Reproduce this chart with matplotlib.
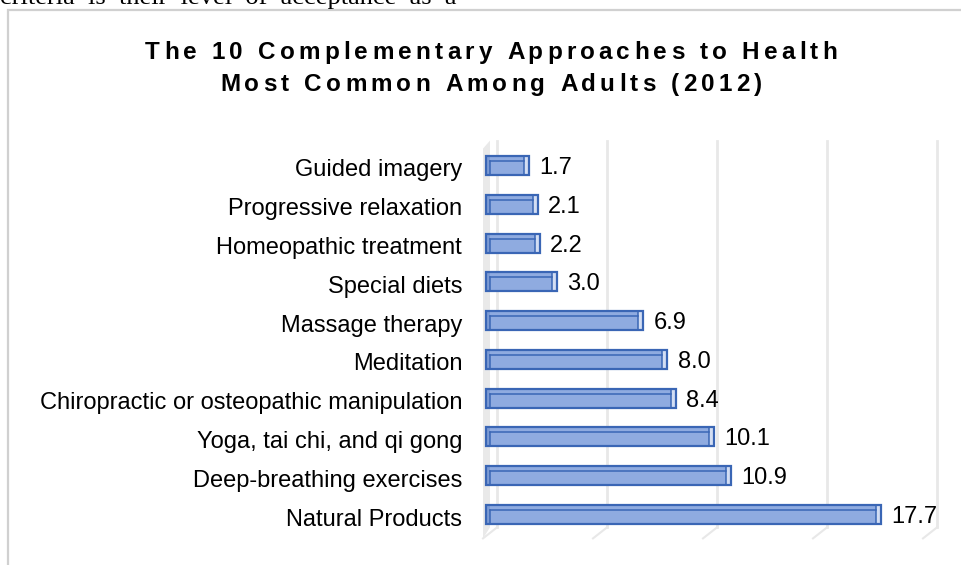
import matplotlib.pyplot as plt
from matplotlib.patches import Rectangle, Polygon
from matplotlib.font_manager import FontProperties

plt.rcParams['font.family'] = ['Liberation Sans', 'DejaVu Sans']

# data, top row first (as drawn)
categories = ['Guided imagery', 'Progressive relaxation', 'Homeopathic treatment',
              'Special diets', 'Massage therapy', 'Meditation',
              'Chiropractic or osteopathic manipulation', 'Yoga, tai chi, and qi gong',
              'Deep-breathing exercises', 'Natural Products']
values = [1.7, 2.1, 2.2, 3.0, 6.9, 8.0, 8.4, 10.1, 10.9, 17.7]
grid_ticks = [0, 5, 10, 15, 20]
title_lines = ['The 10 Complementary Approaches to Health',
               'Most Common Among Adults (2012)']

W, H = 961, 565
fig = plt.figure(figsize=(9.61, 5.65), dpi=100)
renderer = fig.canvas.get_renderer()

# page text cut off at the top
fig.text(0.0, 1 - 4 / H, 'criteria  is  their  level  of  acceptance  as  a',
         family='Liberation Serif', fontsize=19, va='baseline', ha='left')
# chart frame
fig.patches.append(Rectangle((8 / W, -0.05), 1.1, 1 - 10 / H + 0.05,
                             transform=fig.transFigure, fill=False,
                             edgecolor='#d0d0d0', lw=1.6))

# title with extra letter spacing, one glyph at a time
tprop = FontProperties(family='Liberation Sans', weight='bold', size=17.5)


def tw(s):
    return renderer.get_text_width_height_descent(s, tprop, ismath=False)[0]


def spaced_title(s, xc, yc, extra):
    total = tw(s) + extra * (len(s) - 1)
    x = xc - total / 2
    for i, ch in enumerate(s):
        xi = x + (tw(s[:i] + 'H') - tw('H') if i else 0) + extra * i
        if ch != ' ':
            fig.text(xi / W, 1 - yc / H, ch, fontproperties=tprop,
                     ha='left', va='center_baseline')


spaced_title(title_lines[0], 491, 50, 4.2)
spaced_title(title_lines[1], 491, 82, 4.2)

ax = fig.add_axes([483 / W, 28.6 / H, 440 / W, 387.8 / H])
n = len(categories)
ypos = list(range(n))
ax.set_xlim(0, 20)
ax.set_ylim(n - 0.5, -0.5)
for s in ax.spines.values():
    s.set_visible(False)
ax.set_xticks([])
ax.set_yticks(ypos)
ax.set_yticklabels(categories, fontsize=17)
ax.tick_params(axis='y', length=0, pad=15)

grid_c = '#e8e8e8'
y_front = ax.transAxes.transform([(0, 0)])[0][1] - 2
y_top = ax.transAxes.transform([(0, 1)])[0][1] + 8
# back wall gridlines and floor diagonals
for g in grid_ticks:
    xs = ax.transData.transform([(g, 0)])[0][0]
    ax.plot([xs + 14, xs + 14], [y_front + 11, y_top], transform=None,
            color=grid_c, lw=2, clip_on=False, zorder=0)
    ax.plot([xs, xs + 14], [y_front, y_front + 11], transform=None, color=grid_c,
            lw=1.5, clip_on=False, zorder=0)

# left wall
x0 = ax.transData.transform([(0, 0)])[0][0]
ax.add_patch(Polygon([(x0, y_front), (x0 + 7, y_front + 11), (x0 + 7, y_top),
                      (x0, y_top - 8)],
                     closed=True, transform=None, facecolor='#e9e9e9',
                     edgecolor='none', clip_on=False, zorder=0))

face = '#8fabe0'
edge = '#3a66b5'
left = 0.15
for y, v in zip(ypos, values):
    xa, yc = ax.transData.transform([(left, y)])[0]
    xb = ax.transData.transform([(left + v, y)])[0][0]
    # body of the box
    ax.add_patch(Rectangle((xa, yc - 7), xb + 5 - xa, 19, transform=None,
                           facecolor=face, edgecolor='none', zorder=3, clip_on=False))
    # left face, right face
    ax.add_patch(Rectangle((xa, yc - 7), 4, 19, transform=None, facecolor='#7d9bd4',
                           edgecolor='none', zorder=3, clip_on=False))
    ax.add_patch(Rectangle((xb, yc - 7), 5, 19, transform=None, facecolor='#d3def3',
                           edgecolor='none', zorder=3, clip_on=False))
    # inner edges
    ax.plot([xa + 4, xb], [yc + 7, yc + 7], transform=None, color=edge, lw=1.1,
            zorder=4, clip_on=False)
    ax.plot([xa + 4, xa + 4], [yc - 7, yc + 7], transform=None, color=edge, lw=1.1,
            zorder=4, clip_on=False)
    ax.plot([xb, xb], [yc - 7, yc + 12], transform=None, color=edge, lw=1.1,
            zorder=4, clip_on=False)
    ax.add_patch(Rectangle((xa, yc - 7), xb + 5 - xa, 19, transform=None,
                           fill=False, edgecolor=edge, lw=1.6, zorder=5,
                           clip_on=False))
    ax.annotate(f'{v:.1f}', (left + v, y), xytext=(11, 0), textcoords='offset points',
                va='center', ha='left', fontsize=17)

fig.savefig('out.png', dpi=100)
